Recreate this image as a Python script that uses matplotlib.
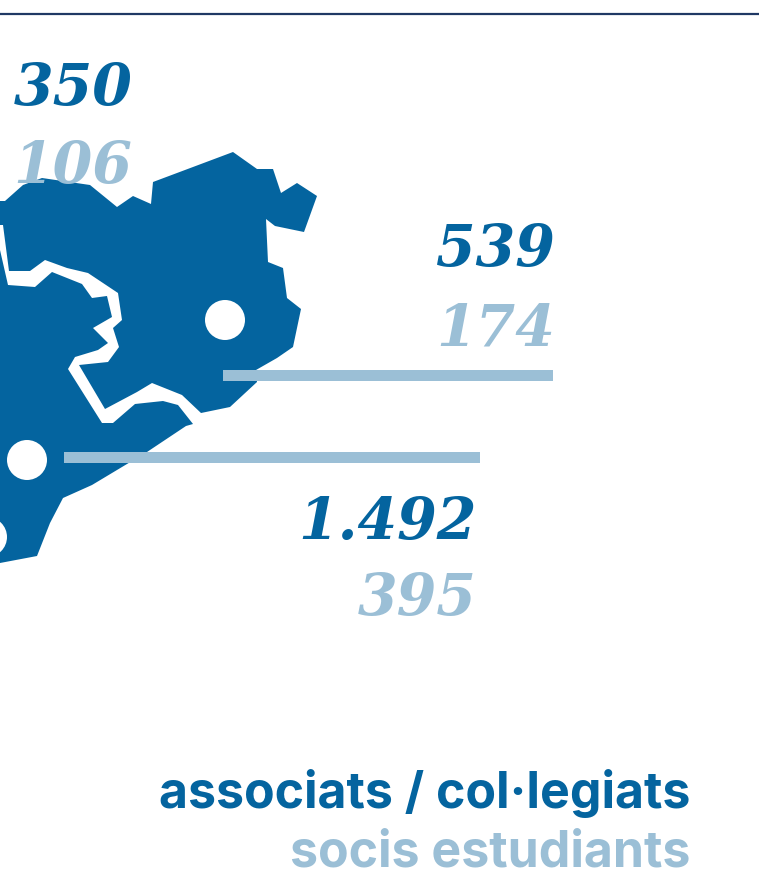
import matplotlib
matplotlib.use('Agg')
import matplotlib.pyplot as plt
from matplotlib.patches import Polygon, Circle, Rectangle

# dados
valors_associats = ['350', '539', '1.492']
valors_estudiants = ['106', '174', '395']
llegenda = ['associats / col·legiats', 'socis estudiants']

# contorn del mapa, llegit de la imatge (x, y)
zona_nord = [(0, 201), (5, 201), (23, 185), (42, 178), (90, 185), (117, 207), (133, 196),
             (151, 204), (153, 182), (233, 152), (257, 169), (273, 169), (281, 193),
             (297, 183), (317, 196), (304, 232), (275, 226), (266, 219), (268, 262),
             (283, 268), (287, 298), (301, 309), (293, 347), (277, 358), (256, 370), (257, 382),
             (230, 407), (201, 413), (182, 395), (152, 383), (137, 392), (105, 409),
             (79, 365), (108, 362), (119, 347), (113, 328), (122, 320), (118, 293),
             (88, 273), (67, 268), (45, 260), (30, 271), (9, 271), (3, 225), (0, 225)]
zona_sud = [(0, 250), (8, 285), (35, 287), (52, 272), (82, 284), (92, 298), (107, 296),
            (112, 317), (93, 328), (108, 343), (98, 350), (75, 357), (68, 369), (102, 423),
            (113, 423), (135, 404), (163, 401), (178, 405), (193, 424), (186, 426),
            (147, 452), (92, 485), (63, 498), (50, 523), (37, 556), (0, 563)]
punts = [(225, 320), (27, 460), (-13, 537)]

# linies: x inicial, x final, y
linies = [(223, 553, 375), (64, 480, 457)]

# text: x dreta, y base
pos_associats = [(133, 105), (555, 266), (477, 539)]
pos_estudiants = [(132, 183), (555, 345), (477, 615)]
pos_llegenda = [(690, 808), (690, 866)]

BLAU = '#04649F'
CLAR = '#9BBFD6'
NAVY = '#1F3864'

# grafico
fig = plt.figure(figsize=(7.59, 8.88), dpi=100)
ax = fig.add_axes([0, 0, 1, 1])
ax.set_xlim(0, 759)
ax.set_ylim(888, 0)
ax.axis('off')

ax.plot([0, 759], [14, 14], color=NAVY, lw=1.6, solid_capstyle='butt')

for zona in [zona_nord, zona_sud]:
    ax.add_patch(Polygon(zona, closed=True, facecolor=BLAU, edgecolor='none'))
for p in punts:
    ax.add_patch(Circle(p, 20, facecolor='white', edgecolor='none'))
for x0, x1, y in linies:
    ax.add_patch(Rectangle((x0, y - 5.5), x1 - x0, 11, facecolor=CLAR, edgecolor='none'))

font_num = dict(family='DejaVu Serif', weight='bold', style='italic', size=41,
                ha='right', va='baseline')
for (x, y), v in zip(pos_associats, valors_associats):
    ax.text(x, y, v, color=BLAU, **font_num)
for (x, y), v in zip(pos_estudiants, valors_estudiants):
    ax.text(x, y, v, color=CLAR, **font_num)

font_ll = dict(family='Inter', weight='bold', size=36, ha='right', va='baseline')
ax.text(*pos_llegenda[0], llegenda[0], color=BLAU, **font_ll)
ax.text(*pos_llegenda[1], llegenda[1], color=CLAR, **font_ll)

fig.savefig('out.png', dpi=100)
